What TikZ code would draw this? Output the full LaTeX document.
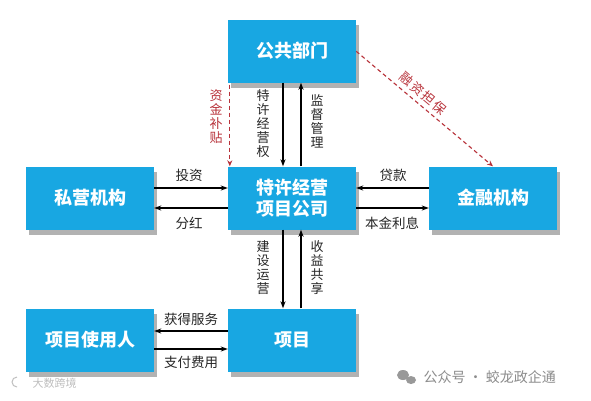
\documentclass[tikz,border=0pt]{standalone}
\usepackage{fontspec}
\setmainfont{Noto Sans CJK SC}
\usetikzlibrary{arrows.meta,shadows,calc}
\definecolor{boxblue}{HTML}{18A7E2}
\definecolor{dashred}{HTML}{B8323A}
\tikzset{
  box/.style={fill=boxblue, draw=none, minimum width=128pt, minimum height=63pt,
    text=white, font=\fontsize{18pt}{21pt}\selectfont\bfseries, align=center,
    drop shadow={shadow xshift=3pt, shadow yshift=-5pt, fill=black, opacity=0.3}},
  arr/.style={-{Stealth[length=7pt,width=5pt]}, line width=1.1pt, black},
  darr/.style={-{Stealth[length=6pt,width=5pt]}, line width=1.1pt, dashred, dash pattern=on 4pt off 3pt},
  lab/.style={font=\fontsize{13.5pt}{15pt}\selectfont, text=black!85},
  vlab/.style={font=\fontsize{13pt}{14pt}\selectfont, text=black!85, align=center, inner sep=0pt},
  rlab/.style={font=\fontsize{13pt}{14pt}\selectfont, text=dashred, align=center, inner sep=0pt},
  dlab/.style={font=\fontsize{13pt}{14pt}\selectfont, text=dashred, inner sep=0pt, rotate=-40},
  wm/.style={font=\fontsize{14pt}{16pt}\selectfont, text=black!45}
}
\begin{document}
\begin{tikzpicture}[x=1pt,y=-1pt]
\useasboundingbox[fill=white] (0,0) rectangle (591,400);
\node[box] (gov) at (292,51) {公共部门};
\node[box] (pri) at (90,198) {私营机构};
\node[box] (spv) at (292,198) {特许经营\\项目公司};
\node[box] (fin) at (493,198) {金融机构};
\node[box] (usr) at (90,340) {项目使用人};
\node[box] (prj) at (292,340) {项目};

% gov <-> spv
\draw[arr] ($(gov.south)+(-9,0)$) -- ($(spv.north)+(-9,0)$);
\draw[arr] ($(spv.north)+(9,0)$) -- ($(gov.south)+(9,0)$);
\node[vlab] (l1) at (263,124) {特\\许\\经\\营\\权};
\node[vlab] (l2) at (317,121) {监\\督\\管\\理};
\draw[darr] ($(gov.south west)+(2,2)$) -- ($(spv.north west)+(2,0)$);
\node[rlab] (l3) at (216,117) {资\\金\\补\\贴};

% spv <-> prj
\draw[arr] ($(spv.south)+(-9,0)$) -- ($(prj.north)+(-9,0)$);
\draw[arr] ($(prj.north)+(9,0)$) -- ($(spv.south)+(9,0)$);
\node[vlab] (l4) at (263,268) {建\\设\\运\\营};
\node[vlab] (l5) at (317,268) {收\\益\\共\\享};

% pri <-> spv
\draw[arr] ($(pri.east)+(0,-10)$) -- ($(spv.west)+(0,-10)$);
\draw[arr] ($(spv.west)+(0,10)$) -- ($(pri.east)+(0,10)$);
\node[lab] (l6) at (189,175) {投资};
\node[lab] (l7) at (189,223) {分红};

% fin <-> spv
\draw[arr] ($(fin.west)+(0,-10)$) -- ($(spv.east)+(0,-10)$);
\draw[arr] ($(spv.east)+(0,10)$) -- ($(fin.west)+(0,10)$);
\node[lab] (l8) at (393,175) {贷款};
\node[lab] (l9) at (392,223) {本金利息};

% prj <-> usr
\draw[arr] ($(prj.west)+(0,-9)$) -- ($(usr.east)+(0,-9)$);
\draw[arr] ($(usr.east)+(0,9)$) -- ($(prj.west)+(0,9)$);
\node[lab] (l10) at (191,319) {获得服务};
\node[lab] (l11) at (191,362) {支付费用};

% guarantee
\coordinate (gs) at ($(gov.north east)+(0,32)$);
\coordinate (ge) at ($(fin.north)+(0,0)$);
\draw[darr] (gs) -- (ge);
\node[dlab] (r1) at (407,79) {融};
\node[dlab] (r2) at (418,89) {资};
\node[dlab] (r3) at (429,98) {担};
\node[dlab] (r4) at (440,108) {保};

% watermarks
\node[wm, anchor=west] (w1) at (420,377) {公众号 · 蛟龙政企通};
\fill[black!40] (403,375) ellipse (6pt and 5pt);
\fill[black!40] (411,380) ellipse (5pt and 4pt);
\node[font=\fontsize{11pt}{12pt}\selectfont, text=black!25, anchor=west] (w2) at (29,383) {大数跨境};
\draw[black!25, line width=1pt] (17,377) arc (90:270:5pt);
\end{tikzpicture}
\end{document}
